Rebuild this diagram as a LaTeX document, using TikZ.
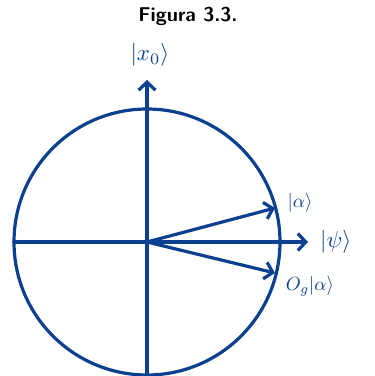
\documentclass[tikz,border=0pt]{standalone}
\usepackage{fontspec}
\usepackage{graphicx}
\usetikzlibrary{arrows.meta}
\definecolor{ink}{HTML}{0B3F8F}
\begin{document}
\begin{tikzpicture}[x=1pt,y=-1pt,
  pen/.style={draw=ink,line width=3.2pt,line cap=round},
  arr/.style={pen,-{Straight Barb[length=8pt,width=17pt,line width=3.2pt]}},
  lbl/.style={text=ink,inner sep=0pt}]
\useasboundingbox (0,0) rectangle (375,376);
\node[font=\sffamily\bfseries\fontsize{20}{24}\selectfont,inner sep=0pt] (title) at (188,16) {Figura 3.3.};
\coordinate (O) at (147,242);
\coordinate (L) at (14,242);
\coordinate (B) at (147,376);
\coordinate (T) at (147,80);
\coordinate (R) at (308,242);
\coordinate (A1) at (275,208);
\coordinate (A2) at (275,273);
\draw[pen] (O) circle[radius=133];
\draw[pen] (L) -- (O);
\draw[pen] (B) -- (O);
\draw[arr] (O) -- (T);
\draw[arr] (O) -- (R);
\draw[arr] (O) -- (A1);
\draw[arr] (O) -- (A2);
\node[lbl] (x0) at (150,55) {\scalebox{2.3}{$|x_0\rangle$}};
\node[lbl] (a) at (300,203) {\scalebox{1.9}{$|\alpha\rangle$}};
\node[lbl,anchor=west] (psi) at (320,242) {\scalebox{2.3}{$|\psi\rangle$}};
\node[lbl] (oa) at (310,286) {\scalebox{1.9}{$O_g|\alpha\rangle$}};
\end{tikzpicture}
\end{document}
